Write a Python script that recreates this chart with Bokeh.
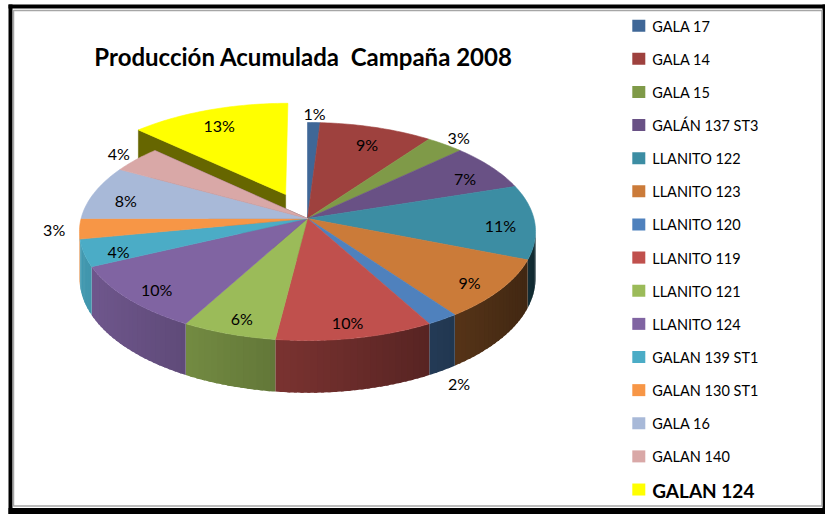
import numpy as np
from bokeh.plotting import figure
from bokeh.models import Range1d
from bokeh.core.properties import value
from bokeh.embed import file_html
from bokeh.resources import INLINE

# ---------------- data ----------------
title_text = "Producción Acumulada\u00a0 Campaña 2008"
categories = ["GALA 17", "GALA 14", "GALA 15", "GALÁN 137 ST3", "LLANITO 122",
              "LLANITO 123", "LLANITO 120", "LLANITO 119", "LLANITO 121",
              "LLANITO 124", "GALAN 139 ST1", "GALAN 130 ST1", "GALA 16",
              "GALAN 140", "GALAN 124"]
shares = [1, 9, 3, 7, 11, 9, 2, 10, 6, 10, 4, 3, 8, 4, 13]

# ---------------- style ----------------
colors = ["#3F6797", "#9E413E", "#7F9A48", "#695185", "#3C8DA3", "#CB7B39",
          "#4F81BD", "#C0504D", "#9BBB59", "#8064A2", "#4BACC6", "#F79646",
          "#A8B9D8", "#D9A8A7", "#FFFF00"]
exploded = [False] * 14 + [True]
label_outside = [True, False, True, False, False, False, True, False, False,
                 False, False, True, False, True, False]
bold_legend = [False] * 14 + [True]

FONT = "Lato"
W, H = 825, 514
# perspective view of the pie (page pixels)
APX, APY = 307.0, 218.0     # projected centre of the pie
A, B, K = 226.4, 107.45, 0.1193
DEPTH = 46.0
EXPLODE = 0.25
R_IN, R_OUT = 0.85, 1.11
LEG_SW_X, LEG_TX_X = 638.3, 651.7
LEG_Y0, LEG_DY = 25.2, 33.13


def shade(hexcol, f):
    h = hexcol.lstrip("#")
    r, g, b = (int(h[i:i + 2], 16) for i in (0, 2, 4))
    return "#%02x%02x%02x" % (int(min(255, r * f)), int(min(255, g * f)), int(min(255, b * f)))


def proj(X, Y, bottom=False):
    den = 1.0 + K * np.asarray(Y)
    x = APX + A * np.asarray(X) / den
    y = APY - B * np.asarray(Y) / den
    if bottom:
        y = y + DEPTH / den
    return x, y


p = figure(width=W, height=H, x_range=Range1d(0, W), y_range=Range1d(H, 0),
           min_border=0, toolbar_location=None, output_backend="svg",
           x_axis_type=None, y_axis_type=None)
p.grid.visible = False
p.outline_line_color = None
p.background_fill_color = "white"
p.border_fill_color = "white"

total = float(sum(shares))
bounds = np.concatenate([[0.0], np.cumsum(shares)]) / total * 2 * np.pi
a0s, a1s = bounds[:-1], bounds[1:]


def offset(i):
    if not exploded[i]:
        return 0.0, 0.0
    m = 0.5 * (a0s[i] + a1s[i])
    return EXPLODE * np.sin(m), EXPLODE * np.cos(m)


def draw_slice_sides(i):
    ox, oy = offset(i)
    a0, a1 = a0s[i], a1s[i]
    n = len(shares)
    prev_sep = exploded[i] or exploded[(i - 1) % n]
    next_sep = exploded[i] or exploded[(i + 1) % n]
    faces = []
    if prev_sep and np.cos(a0 - 1.5 * np.pi) > 1e-6:
        faces.append(a0)
    if next_sep and np.cos(a1 - 0.5 * np.pi) < -1e-6:
        faces.append(a1)
    for a in faces:
        Xs = [ox, ox + np.sin(a)]
        Ys = [oy, oy + np.cos(a)]
        xt, yt = proj(Xs, Ys)
        xb, yb = proj(Xs[::-1], Ys[::-1], bottom=True)
        c = shade(colors[i], 0.4)
        p.patch(list(xt) + list(xb), list(yt) + list(yb), fill_color=c,
                line_color=c, line_width=0.6, line_join="round")
    # outer wall: only the part facing the viewer
    lim = np.arccos(-K)
    lo, hi = max(a0, lim), min(a1, 2 * np.pi - lim)
    if hi > lo:
        nseg = max(2, int(np.degrees(hi - lo) / 1.5))
        edges = np.linspace(lo, hi, nseg + 1)
        ov = np.radians(0.35)
        for k in range(nseg):
            t = np.linspace(max(lo, edges[k] - ov), min(hi, edges[k + 1] + ov), 4)
            Xs, Ys = ox + np.sin(t), oy + np.cos(t)
            xt, yt = proj(Xs, Ys)
            xb, yb = proj(Xs[::-1], Ys[::-1], bottom=True)
            u = np.sin(0.5 * (edges[k] + edges[k + 1]))
            c = shade(colors[i], 0.6 - 0.3 * u)
            p.patch(list(xt) + list(xb), list(yt) + list(yb),
                    fill_color=c, line_color=None)


def draw_slice_top(i):
    ox, oy = offset(i)
    t = np.linspace(a0s[i], a1s[i], max(3, int(np.degrees(a1s[i] - a0s[i]))) + 2)
    Xs = np.concatenate([[ox], ox + np.sin(t)])
    Ys = np.concatenate([[oy], oy + np.cos(t)])
    xs, ys = proj(Xs, Ys)
    p.patch(list(xs), list(ys), fill_color=colors[i], line_color=colors[i],
            line_width=0.6, line_join="round")


order_back = [i for i in range(len(shares)) if exploded[i]]
order_main = [i for i in range(len(shares)) if not exploded[i]]
for i in order_back:
    draw_slice_sides(i)
    draw_slice_top(i)
for i in order_main:
    draw_slice_sides(i)
for i in order_main:
    draw_slice_top(i)

# ---------------- data labels ----------------
lx, ly, lt = [], [], []
for i, s in enumerate(shares):
    m = 0.5 * (a0s[i] + a1s[i])
    ox, oy = offset(i)
    r = R_OUT if label_outside[i] else R_IN
    X, Y = ox + r * np.sin(m), oy + r * np.cos(m)
    x, y = proj(X, Y)
    if label_outside[i]:
        y = y + DEPTH / (1 + K * Y) * float(np.clip((-np.cos(m) - 0.2) / 0.6, 0, 1))
    else:
        y = y + 4
    lx.append(float(x))
    ly.append(float(y))
    lt.append("%d%%" % round(100 * s / total))
p.text(x=lx, y=ly, text=lt, text_font=value(FONT), text_font_size="16px",
       text_align="center", text_baseline="middle", text_color="black")

# ---------------- title ----------------
p.text(x=[303], y=[56], text=[title_text], text_font=value(FONT),
       text_font_size="24px", text_font_style="bold", text_align="center",
       text_baseline="middle", text_color="black")

# ---------------- legend ----------------
ly_ = [LEG_Y0 + k * LEG_DY for k in range(len(categories))]
p.rect(x=[LEG_SW_X] * len(categories), y=ly_, width=13, height=12,
       fill_color=colors, line_color=None)
norm = [k for k in range(len(categories)) if not bold_legend[k]]
bold = [k for k in range(len(categories)) if bold_legend[k]]
p.text(x=[LEG_TX_X] * len(norm), y=[ly_[k] + 0.5 for k in norm],
       text=[categories[k] for k in norm], text_font=value(FONT),
       text_font_size="14.5px", text_align="left", text_baseline="middle",
       text_color="black")
p.text(x=[LEG_TX_X] * len(bold), y=[ly_[k] + 0.5 for k in bold],
       text=[categories[k] for k in bold], text_font=value(FONT),
       text_font_size="19px", text_font_style="bold", text_align="left",
       text_baseline="middle", text_color="black")

# ---------------- frame ----------------
p.quad(left=[8, 822, 8, 8], right=[12, 825, 825, 825],
       top=[4, 4, 507.5, 4], bottom=[514, 514, 514, 8],
       fill_color="black", line_color=None)
p.quad(left=[13], right=[821.5], top=[10], bottom=[505.5],
       fill_color=None, line_color="#a6a6a6", line_width=1.5)

open("out.html", "w").write(file_html(p, INLINE))
